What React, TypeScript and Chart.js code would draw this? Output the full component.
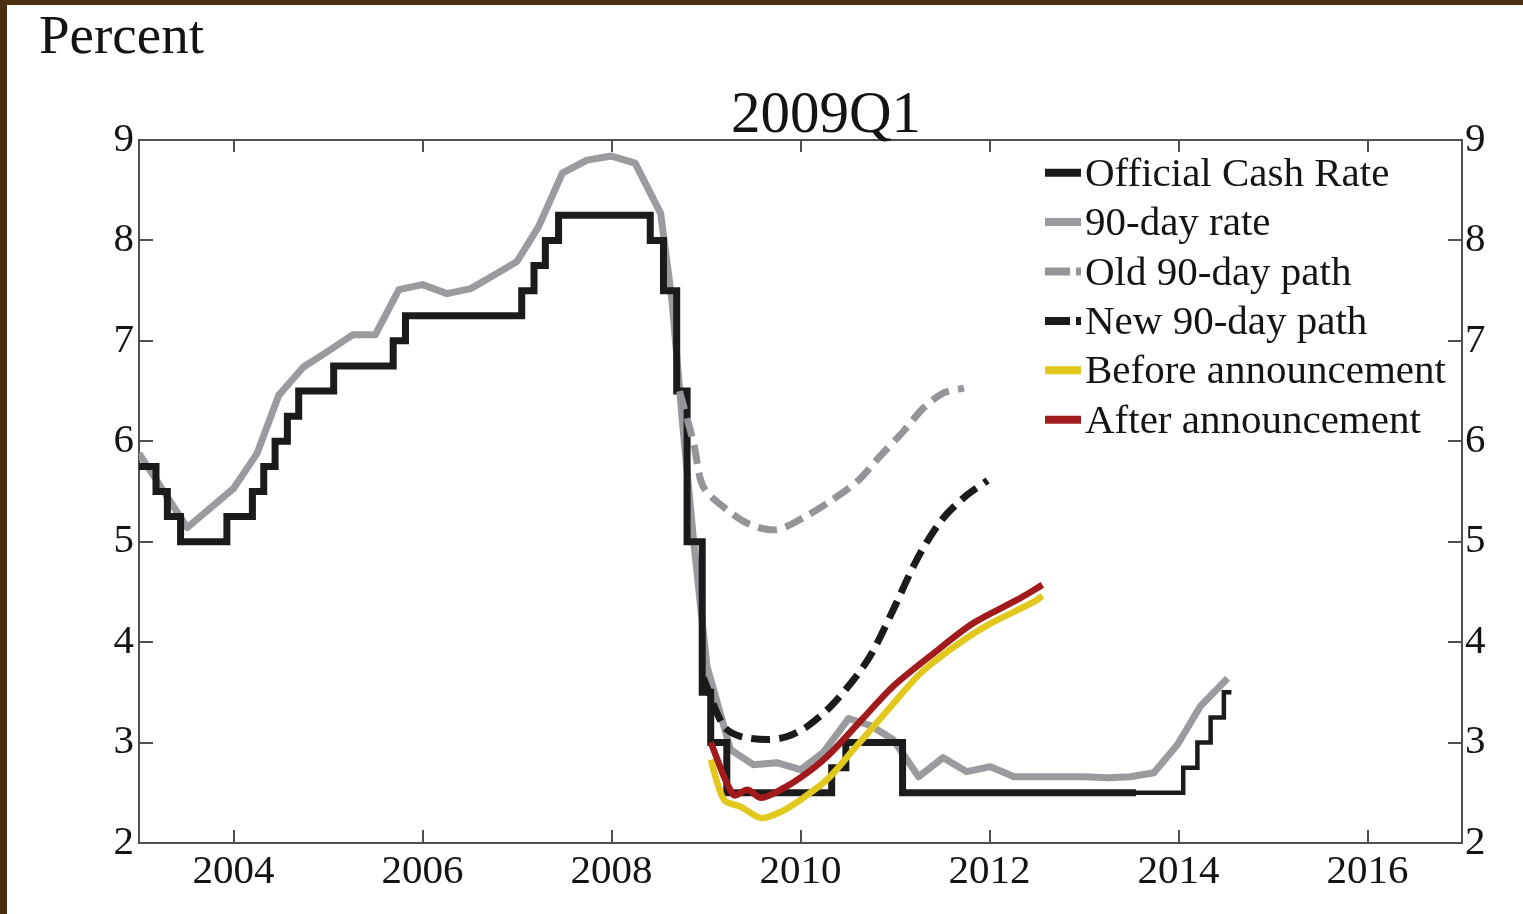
import React, { useEffect, useRef } from 'react';
import { Chart, registerables } from 'chart.js';
Chart.register(...registerables);

// ---------- data ----------
const xTickYears = [2004, 2006, 2008, 2010, 2012, 2014, 2016];
const yTickValues = [2, 3, 4, 5, 6, 7, 8, 9];

const seriesLabels = [
  'Official Cash Rate',
  '90-day rate',
  'Old 90-day path',
  'New 90-day path',
  'Before announcement',
  'After announcement',
];

// Official Cash Rate: time of change -> new level
const ocrTimes = [2003.0, 2003.18, 2003.30, 2003.44, 2003.93, 2004.20, 2004.32, 2004.44, 2004.57, 2004.69,
  2005.06, 2005.69, 2005.82, 2007.05, 2007.18, 2007.30, 2007.44, 2008.41, 2008.55, 2008.69, 2008.80,
  2008.96, 2009.05, 2009.22, 2010.33, 2010.48, 2011.08, 2013.55, 2014.05, 2014.20, 2014.34, 2014.48, 2014.56];
const ocrValues = [5.75, 5.5, 5.25, 5.0, 5.25, 5.5, 5.75, 6.0, 6.25, 6.5,
  6.75, 7.0, 7.25, 7.5, 7.75, 8.0, 8.25, 8.0, 7.5, 6.5, 5.0,
  3.5, 3.0, 2.5, 2.75, 3.0, 2.5, 2.5, 2.75, 3.0, 3.25, 3.5, 3.5];

const ninetyTimes = [2003.0, 2003.51, 2004.0, 2004.25, 2004.48, 2004.74, 2004.99, 2005.26, 2005.50, 2005.75,
  2006.0, 2006.26, 2006.51, 2006.75, 2007.0, 2007.23, 2007.48, 2007.74, 2008.0, 2008.25, 2008.52,
  2008.64, 2008.75, 2008.87, 2009.01, 2009.26, 2009.50, 2009.75, 2010.0, 2010.24, 2010.51, 2010.74,
  2010.98, 2011.25, 2011.51, 2011.76, 2012.01, 2012.26, 2012.51, 2012.75, 2013.0, 2013.25, 2013.49,
  2013.74, 2013.99, 2014.23, 2014.52];
const ninetyValues = [5.88, 5.14, 5.53, 5.88, 6.46, 6.74, 6.89, 7.06, 7.06, 7.51,
  7.56, 7.47, 7.52, 7.65, 7.79, 8.14, 8.67, 8.80, 8.84, 8.77, 8.27,
  7.4, 6.2, 5.0, 3.76, 2.93, 2.78, 2.80, 2.73, 2.90, 3.24, 3.17,
  3.03, 2.66, 2.85, 2.71, 2.76, 2.66, 2.66, 2.66, 2.66, 2.65, 2.66,
  2.70, 2.98, 3.36, 3.64];

const oldPathTimes = [2008.72, 2008.87, 2008.97, 2009.22, 2009.47, 2009.75, 2010.03, 2010.31, 2010.60, 2010.85, 2011.09, 2011.30, 2011.51, 2011.73];
const oldPathValues = [6.5, 5.98, 5.55, 5.32, 5.17, 5.12, 5.24, 5.40, 5.60, 5.86, 6.10, 6.33, 6.48, 6.53];

const newPathTimes = [2008.97, 2009.19, 2009.37, 2009.65, 2009.86, 2010.07, 2010.35, 2010.71, 2010.98, 2011.23, 2011.48, 2011.73, 2011.98];
const newPathValues = [3.65, 3.16, 3.06, 3.03, 3.06, 3.16, 3.39, 3.82, 4.32, 4.82, 5.20, 5.44, 5.61];

const beforeTimes = [2009.05, 2009.19, 2009.37, 2009.58, 2009.79, 2010.0, 2010.28, 2010.56, 2010.92, 2011.27, 2011.62, 2011.98, 2012.47, 2012.56];
const beforeValues = [2.83, 2.43, 2.36, 2.25, 2.31, 2.43, 2.63, 2.93, 3.32, 3.69, 3.95, 4.17, 4.40, 4.46];

const afterTimes = [2009.05, 2009.29, 2009.44, 2009.58, 2009.79, 2010.0, 2010.28, 2010.64, 2010.98, 2011.41, 2011.83, 2012.29, 2012.56];
const afterValues = [3.0, 2.48, 2.53, 2.45, 2.53, 2.65, 2.86, 3.22, 3.56, 3.89, 4.19, 4.42, 4.57];

// ---------- styles ----------
const FONT = '"Liberation Serif", "Times New Roman", serif';
const TEXT = '#141414';
const AXIS = '#505050';
const BLACK = '#1c1b1b';
const GRAY = '#9a9b9f';
const GRAY_DASH = '#939599';
const YELLOW = '#e2c81c';
const RED = '#a11b1d';

const pts = (t: number[], v: number[]) => t.map((x, i) => ({ x, y: v[i] }));

const innerTicks = {
  id: 'innerTicks',
  beforeDatasetsDraw(chart: any) {
    const { ctx, chartArea: a, scales } = chart;
    ctx.save();
    ctx.strokeStyle = AXIS;
    ctx.lineWidth = 2;
    ctx.beginPath();
    scales.x.ticks.forEach((t: any) => {
      const px = Math.round(scales.x.getPixelForValue(t.value));
      ctx.moveTo(px, a.bottom); ctx.lineTo(px, a.bottom - 13);
      ctx.moveTo(px, a.top); ctx.lineTo(px, a.top + 12);
    });
    scales.y.ticks.forEach((t: any) => {
      const py = Math.round(scales.y.getPixelForValue(t.value));
      ctx.moveTo(a.left, py); ctx.lineTo(a.left + 14, py);
      ctx.moveTo(a.right, py); ctx.lineTo(a.right - 14, py);
    });
    ctx.stroke();
    ctx.restore();
  },
};

const lineLegend = {
  id: 'lineLegend',
  afterDatasetsDraw(chart: any, _args: any, opts: any) {
    const { ctx } = chart;
    ctx.save();
    chart.data.datasets.forEach((ds: any, i: number) => {
      const y = opts.y + i * opts.gap;
      ctx.strokeStyle = ds.borderColor;
      ctx.lineWidth = opts.lineWidth;
      ctx.lineCap = 'butt';
      ctx.beginPath();
      if (ds.borderDash && ds.borderDash.length) {
        ctx.moveTo(opts.x, y); ctx.lineTo(opts.x + 25, y);
        ctx.moveTo(opts.x + 31, y); ctx.lineTo(opts.x + 36, y);
      } else {
        ctx.moveTo(opts.x, y); ctx.lineTo(opts.x + 36, y);
      }
      ctx.stroke();
      ctx.fillStyle = TEXT;
      ctx.font = `41px ${FONT}`;
      ctx.textBaseline = 'alphabetic';
      ctx.textAlign = 'left';
      ctx.fillText(ds.label, opts.x + 40, y + 13);
    });
    ctx.restore();
  },
};

export default function App() {
  const ref = useRef<HTMLCanvasElement>(null);
  useEffect(() => {
    const canvas = ref.current;
    if (!canvas) return;
    const tickFont = { family: FONT, size: 41 };
    const chart = new Chart(canvas, {
      type: 'line',
      data: {
        datasets: [
          {
            label: seriesLabels[0], data: pts(ocrTimes, ocrValues), borderColor: BLACK, borderWidth: 7,
            stepped: true, order: 4, borderJoinStyle: 'miter',
            segment: { borderWidth: (c: any) => (c.p0.parsed.x >= 2013.5 ? 4.5 : 7) },
          },
          { label: seriesLabels[1], data: pts(ninetyTimes, ninetyValues), borderColor: GRAY, borderWidth: 7, order: 5, borderJoinStyle: 'round' },
          { label: seriesLabels[2], data: pts(oldPathTimes, oldPathValues), borderColor: GRAY_DASH, borderWidth: 7, borderDash: [19, 9], tension: 0.3, order: 3 },
          { label: seriesLabels[3], data: pts(newPathTimes, newPathValues), borderColor: BLACK, borderWidth: 7, borderDash: [19, 9], tension: 0.3, order: 2 },
          { label: seriesLabels[4], data: pts(beforeTimes, beforeValues), borderColor: YELLOW, borderWidth: 6.5, tension: 0.3, order: 1 },
          { label: seriesLabels[5], data: pts(afterTimes, afterValues), borderColor: RED, borderWidth: 6.5, tension: 0.3, order: 0 },
        ] as any,
      },
      options: {
        responsive: false,
        animation: false,
        devicePixelRatio: 1,
        parsing: false as any,
        elements: { point: { radius: 0 } },
        layout: { padding: { top: 140, left: 0, right: 0, bottom: 0 } },
        plugins: {
          legend: { display: false },
          tooltip: { enabled: false },
          title: { display: false },
          lineLegend: { x: 1045, y: 172.7, gap: 49.4, lineWidth: 8 },
        } as any,
        scales: {
          x: {
            type: 'linear', position: 'bottom', min: 2003, max: 2017,
            afterBuildTicks: (s: any) => { s.ticks = xTickYears.map((v) => ({ value: v })); },
            afterFit: (s: any) => { s.height = 71; },
            grid: { display: false, drawTicks: false },
            border: { display: true, color: AXIS, width: 2 },
            ticks: { padding: 5, font: tickFont, color: TEXT, maxRotation: 0, autoSkip: false, callback: (v: any) => String(v) },
          },
          xTop: {
            type: 'linear', position: 'top', min: 2003, max: 2017,
            afterFit: (s: any) => { s.height = 0; },
            grid: { display: false, drawTicks: false },
            border: { display: true, color: AXIS, width: 2 },
            ticks: { display: false },
          },
          y: {
            type: 'linear', position: 'left', min: 2, max: 9,
            afterBuildTicks: (s: any) => { s.ticks = yTickValues.map((v) => ({ value: v })); },
            afterFit: (s: any) => { s.width = 139; },
            grid: { display: false, drawTicks: false },
            border: { display: true, color: AXIS, width: 2 },
            ticks: { padding: 5, font: tickFont, color: TEXT, callback: (v: any) => String(v) },
          },
          y2: {
            type: 'linear', position: 'right', min: 2, max: 9,
            afterBuildTicks: (s: any) => { s.ticks = yTickValues.map((v) => ({ value: v })); },
            afterFit: (s: any) => { s.width = 61; },
            grid: { display: false, drawTicks: false },
            border: { display: true, color: AXIS, width: 2 },
            ticks: { padding: 3, font: tickFont, color: TEXT, callback: (v: any) => String(v) },
          },
        } as any,
      },
      plugins: [innerTicks, lineLegend],
    } as any);
    return () => chart.destroy();
  }, []);

  return (
    <div style={{ position: 'absolute', left: 0, top: 0, width: 1523, height: 914, background: '#ffffff', overflow: 'hidden' }}>
      <canvas ref={ref} width={1523} height={914} style={{ position: 'absolute', left: 0, top: 0 }} />
      <div style={{ position: 'absolute', left: 39, top: 7, fontFamily: FONT, fontSize: 55, lineHeight: 1, color: TEXT, whiteSpace: 'nowrap' }}>Percent</div>
      <div style={{ position: 'absolute', left: 626, width: 400, top: 83, textAlign: 'center', fontFamily: FONT, fontSize: 59, lineHeight: 1, color: TEXT, whiteSpace: 'nowrap' }}>2009Q1</div>
      <div style={{ position: 'absolute', left: 0, top: 0, width: 7, height: 914, background: '#4b3011' }} />
      <div style={{ position: 'absolute', left: 0, top: 0, width: 1523, height: 5, background: '#4b3011' }} />
    </div>
  );
}
